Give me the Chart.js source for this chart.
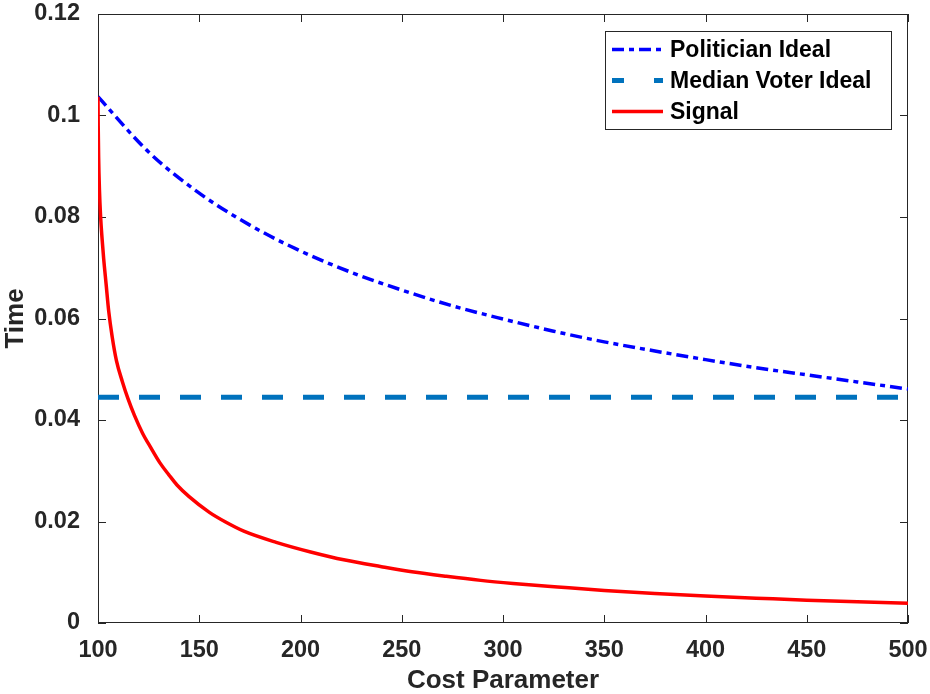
<!DOCTYPE html>
<html>
<head>
<meta charset="utf-8">
<script src="https://cdn.jsdelivr.net/npm/chart.js@4.4.1/dist/chart.umd.min.js"></script>
<style>
  html, body { margin: 0; padding: 0; background: #fff; }
  #wrap { width: 930px; height: 694px; }
</style>
</head>
<body>
<div id="wrap"><canvas id="timeChart" width="930" height="694"></canvas></div>
<script>
// --- DATA ---
const politicianCost = [100, 125, 150, 175, 200, 225, 250, 275, 300, 325, 350, 375, 400, 425, 450, 475, 500];
const politicianTime = [0.1037, 0.0928, 0.0847, 0.0784, 0.0733, 0.0691, 0.0656, 0.0625, 0.0599, 0.0575, 0.0554, 0.0536, 0.0519, 0.0503, 0.0489, 0.0475, 0.0461];

const medianCost = [100, 500];
const medianTime = [0.0445, 0.0445];

const signalCost = [100, 100.1, 100.3, 100.7, 101.3, 102, 102.8, 104, 105.3, 107, 109.1, 112, 114.8, 118, 122, 126, 130.5, 135, 139, 145, 155, 163, 172, 188, 205, 222, 240, 255, 272, 289, 305, 327, 350, 375, 400, 425, 450, 475, 500];
const signalTime = [0.1037, 0.098, 0.092, 0.0855, 0.0800, 0.0758, 0.0718, 0.0668, 0.0614, 0.0564, 0.0517, 0.0476, 0.0442, 0.0409, 0.0374, 0.0346, 0.0316, 0.0292, 0.0272, 0.0249, 0.0218, 0.0199, 0.0181, 0.0159, 0.0140, 0.0124, 0.0111, 0.0101, 0.0092, 0.0084, 0.0078, 0.0071, 0.0064, 0.0058, 0.0053, 0.0049, 0.0045, 0.0042, 0.0039];

const xTicks = [100, 150, 200, 250, 300, 350, 400, 450, 500];
const yTicks = [0, 0.02, 0.04, 0.06, 0.08, 0.1, 0.12];
const yTickLabels = ['0', '0.02', '0.04', '0.06', '0.08', '0.1', '0.12'];

const seriesNames = ['Politician Ideal', 'Median Voter Ideal', 'Signal'];

const FONT = "'Liberation Sans', Arial, sans-serif";
const AXIS_COLOR = '#262626';

function toPoints(xs, ys) {
    return xs.map((x, i) => ({ x: x, y: ys[i] }));
}

// box around the plot with MATLAB-style inward ticks on all four sides
const framePlugin = {
    id: 'frame',
    beforeDatasetsDraw(chart) {
        const { ctx, chartArea: a, scales } = chart;
        const L = 8;
        ctx.save();
        ctx.strokeStyle = AXIS_COLOR;
        ctx.lineWidth = 1;
        ctx.strokeRect(Math.round(a.left) + 0.5, Math.round(a.top) + 0.5, Math.round(a.width) - 1, Math.round(a.height) - 1);
        ctx.beginPath();
        scales.x.ticks.forEach(t => {
            const px = Math.round(scales.x.getPixelForValue(t.value)) + 0.5;
            ctx.moveTo(px, a.bottom); ctx.lineTo(px, a.bottom - L);
            ctx.moveTo(px, a.top); ctx.lineTo(px, a.top + L);
        });
        scales.y.ticks.forEach(t => {
            const py = Math.round(scales.y.getPixelForValue(t.value)) + 0.5;
            ctx.moveTo(a.left, py); ctx.lineTo(a.left + L, py);
            ctx.moveTo(a.right, py); ctx.lineTo(a.right - L, py);
        });
        ctx.stroke();
        ctx.restore();
    }
};

// boxed legend in the upper right corner of the plot
const legendPlugin = {
    id: 'boxLegend',
    afterDraw(chart) {
        const ctx = chart.ctx;
        const box = { left: 605, top: 31, width: 286, height: 98 };
        ctx.save();
        ctx.fillStyle = '#fff';
        ctx.fillRect(box.left, box.top, box.width, box.height);
        ctx.strokeStyle = AXIS_COLOR;
        ctx.lineWidth = 1;
        ctx.strokeRect(box.left + 0.5, box.top + 0.5, box.width, box.height);
        chart.data.datasets.forEach((ds, i) => {
            const y = 49.5 + i * 31;
            ctx.beginPath();
            ctx.strokeStyle = ds.borderColor;
            ctx.lineWidth = ds.borderWidth;
            ctx.setLineDash(ds.legendDash || []);
            ctx.moveTo(612, y);
            ctx.lineTo(663, y);
            ctx.stroke();
            ctx.setLineDash([]);
            ctx.fillStyle = '#000';
            ctx.font = 'bold 23px ' + FONT;
            ctx.textBaseline = 'middle';
            ctx.fillText(ds.label, 670, y + 1);
        });
        ctx.restore();
    }
};

new Chart(document.getElementById('timeChart').getContext('2d'), {
    type: 'line',
    data: {
        datasets: [{
            label: seriesNames[0],
            data: toPoints(politicianCost, politicianTime),
            borderColor: '#0000ff',
            borderWidth: 3.5,
            borderDash: [12, 5, 5, 5],
            legendDash: [12, 5, 5, 5],
            cubicInterpolationMode: 'monotone',
            pointRadius: 0,
            order: 3
        }, {
            label: seriesNames[1],
            data: toPoints(medianCost, medianTime),
            borderColor: '#0072bd',
            borderWidth: 5,
            borderDash: [21, 20],
            legendDash: [12, 30],
            pointRadius: 0,
            order: 2
        }, {
            label: seriesNames[2],
            data: toPoints(signalCost, signalTime),
            borderColor: '#ff0000',
            borderWidth: 3.5,
            cubicInterpolationMode: 'monotone',
            pointRadius: 0,
            order: 1
        }]
    },
    options: {
        responsive: false,
        animation: false,
        events: [],
        layout: { padding: { top: 14, right: 22, left: 0, bottom: 0 } },
        scales: {
            x: {
                type: 'linear',
                min: 100,
                max: 500,
                afterBuildTicks: s => { s.ticks = xTicks.map(v => ({ value: v })); },
                afterFit: s => { s.height = 71; s.paddingLeft = 0; s.paddingRight = 0; },
                grid: { display: false },
                border: { display: false },
                ticks: {
                    color: AXIS_COLOR,
                    font: { family: FONT, size: 23.5, weight: 'bold' },
                    padding: 5,
                    maxRotation: 0
                },
                title: {
                    display: true,
                    text: 'Cost Parameter',
                    color: AXIS_COLOR,
                    font: { family: FONT, size: 26, weight: 'bold', lineHeight: 1 },
                    padding: { top: 0, bottom: 0 }
                }
            },
            y: {
                type: 'linear',
                min: 0,
                max: 0.12,
                afterBuildTicks: s => { s.ticks = yTicks.map(v => ({ value: v })); },
                afterFit: s => { s.width = 98; s.paddingTop = 0; s.paddingBottom = 0; },
                grid: { display: false },
                border: { display: false },
                ticks: {
                    color: AXIS_COLOR,
                    font: { family: FONT, size: 23.5, weight: 'bold' },
                    padding: 10,
                    callback: (v, i) => yTickLabels[i]
                },
                title: {
                    display: true,
                    text: 'Time',
                    color: AXIS_COLOR,
                    font: { family: FONT, size: 26, weight: 'bold' },
                    padding: { top: 0, bottom: 0 }
                }
            }
        },
        plugins: {
            legend: { display: false },
            tooltip: { enabled: false }
        }
    },
    plugins: [framePlugin, legendPlugin]
});
</script>
</body>
</html>
